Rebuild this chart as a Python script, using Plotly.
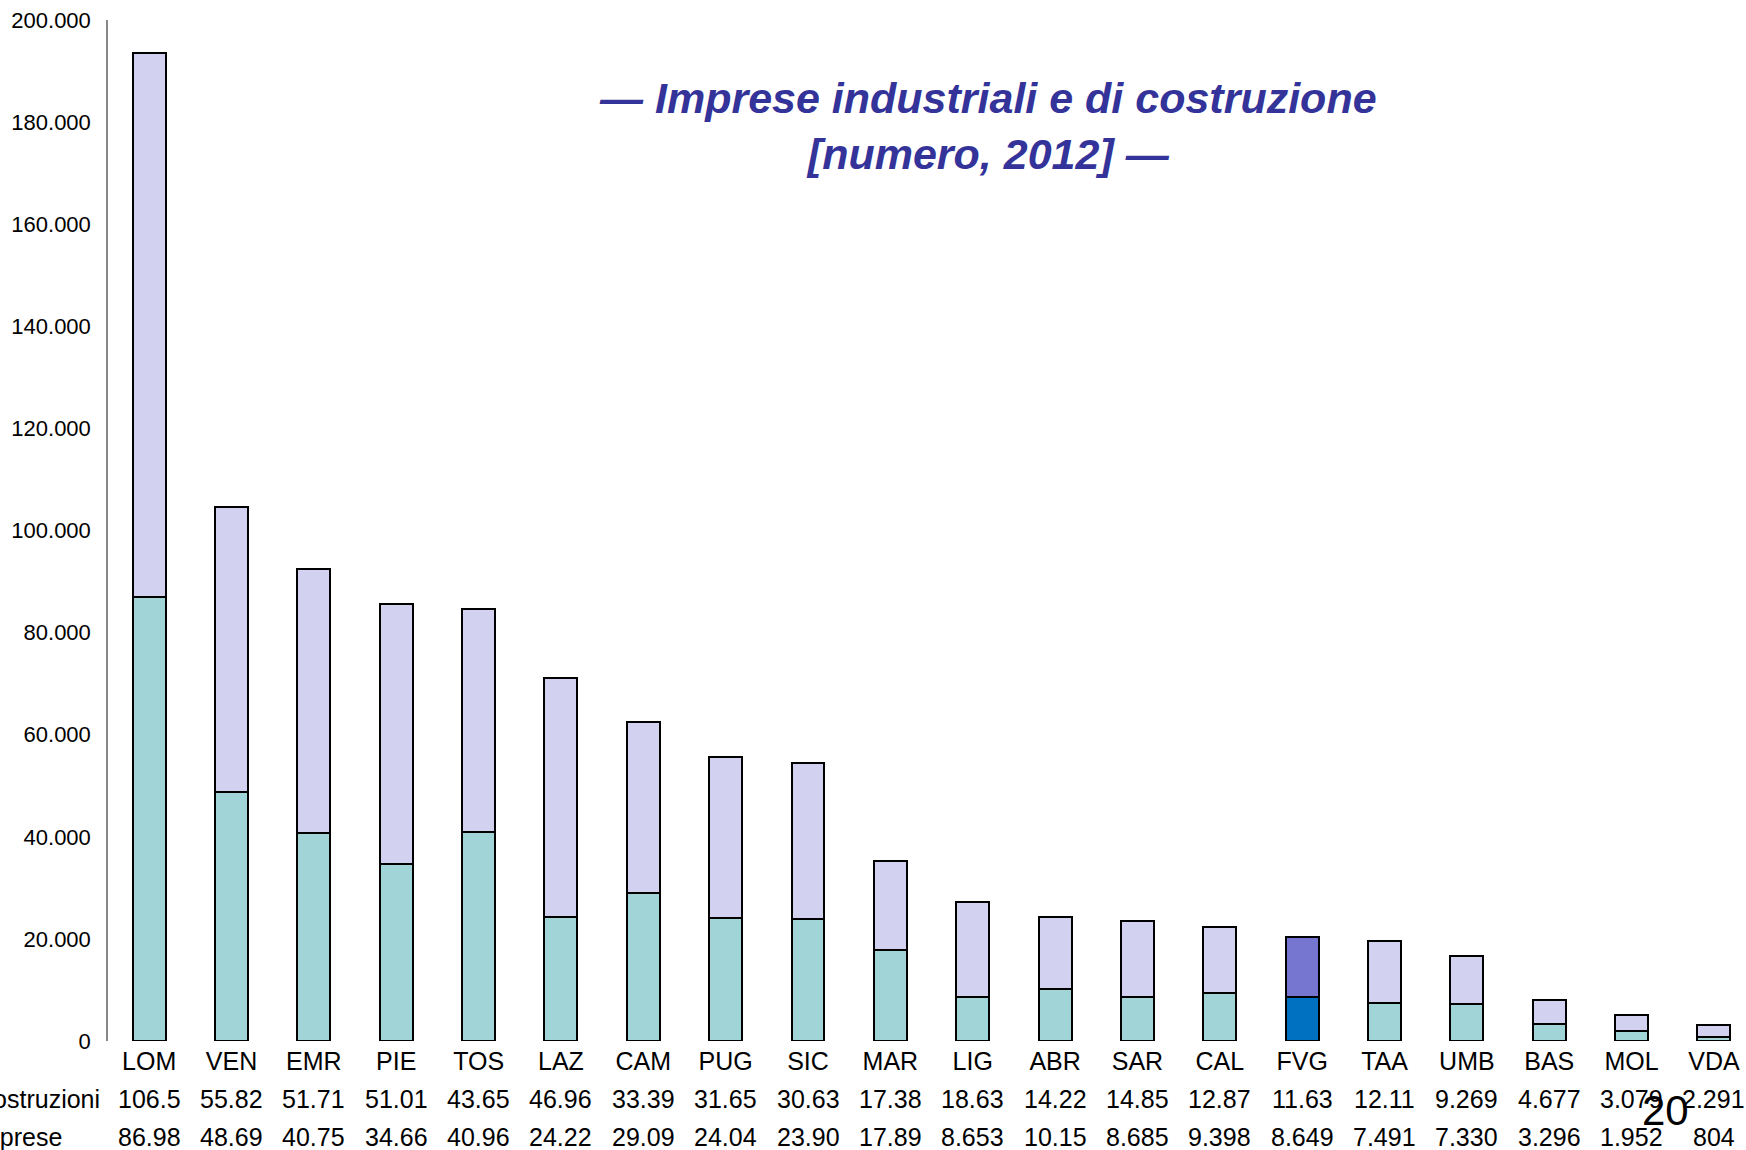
import plotly.graph_objects as go

regioni = ["LOM", "VEN", "EMR", "PIE", "TOS", "LAZ", "CAM", "PUG", "SIC", "MAR",
           "LIG", "ABR", "SAR", "CAL", "FVG", "TAA", "UMB", "BAS", "MOL", "VDA"]
costruzioni = [106500, 55820, 51710, 51010, 43650, 46960, 33390, 31650, 30630, 17380,
               18630, 14220, 14850, 12870, 11630, 12110, 9269, 4677, 3079, 2291]
imprese = [86980, 48690, 40750, 34660, 40960, 24220, 29090, 24040, 23900, 17890,
           8653, 10150, 8685, 9398, 8649, 7491, 7330, 3296, 1952, 804]
y_ticks = [0, 20000, 40000, 60000, 80000, 100000, 120000, 140000, 160000, 180000, 200000]
evidenza = "FVG"

TEAL, LAV = "#A0D4D6", "#D2D2F0"
FVG_BOT, FVG_TOP = "#0070C0", "#7676D0"
FONT = "Liberation Sans, Arial, sans-serif"
TXT = 25

col_bot = [FVG_BOT if r == evidenza else TEAL for r in regioni]
col_top = [FVG_TOP if r == evidenza else LAV for r in regioni]

fig = go.Figure()
fig.add_trace(go.Bar(x=regioni, y=imprese, name="Imprese", marker=dict(color=col_bot, line=dict(color="black", width=2))))
fig.add_trace(go.Bar(x=regioni, y=costruzioni, name="Costruzioni", marker=dict(color=col_top, line=dict(color="black", width=2))))


def fmt(v):
    return f"{v:,}".replace(",", ".")[:5]

PLOT_TOP, PLOT_BOT, LEFT, W, H = 20, 1041, 108, 1746, 1150
ph = PLOT_BOT - PLOT_TOP
pw = W - LEFT

def py(ypix):
    return (PLOT_BOT - ypix) / ph

def px(xpix):
    return (xpix - LEFT) / pw

ann = []
for r, c, i in zip(regioni, costruzioni, imprese):
    ann.append(dict(x=r, xref="x", y=py(1099), yref="paper", text=fmt(c), showarrow=False,
                    xanchor="center", yanchor="middle", font=dict(size=TXT, color="black", family=FONT)))
    ann.append(dict(x=r, xref="x", y=py(1137), yref="paper", text=fmt(i), showarrow=False,
                    xanchor="center", yanchor="middle", font=dict(size=TXT, color="black", family=FONT)))
ann.append(dict(x=px(102), xref="paper", y=py(1099), yref="paper", text="Costruzioni", showarrow=False,
                xanchor="right", yanchor="middle", font=dict(size=TXT, color="black", family=FONT)))
ann.append(dict(x=px(64), xref="paper", y=py(1137), yref="paper", text="Imprese", showarrow=False,
                xanchor="right", yanchor="middle", font=dict(size=TXT, color="black", family=FONT)))
ann.append(dict(x=px(988), xref="paper", y=py(126), yref="paper",
                text="<b><i>— Imprese industriali e di costruzione<br>[numero, 2012] —</i></b>",
                showarrow=False, xanchor="center", yanchor="middle", align="center",
                font=dict(size=43, color="#333399", family=FONT)))
ann.append(dict(x=px(1665), xref="paper", y=py(1110), yref="paper", text="20", showarrow=False,
                xanchor="center", yanchor="middle", font=dict(size=42, color="black", family=FONT)))

fig.update_layout(
    barmode="stack",
    bargap=0.6,
    width=W, height=H,
    margin=dict(l=LEFT, r=0, t=PLOT_TOP, b=H - PLOT_BOT, pad=0),
    paper_bgcolor="white", plot_bgcolor="white",
    showlegend=False,
    separators=",.",
    annotations=ann,
    font=dict(family=FONT, color="black"),
)
fig.update_xaxes(range=[-0.5, (W - 148.7) / 82.38], showgrid=False, zeroline=False, showline=False,
                 ticks="", tickfont=dict(size=TXT, color="black"), ticklabelstandoff=3)
fig.update_yaxes(range=[0, 200000], tickvals=y_ticks, tickformat=",.0f", showgrid=False, zeroline=False,
                 showline=True, linecolor="#898989", linewidth=1.5, ticks="",
                 tickfont=dict(size=22, color="black"), ticklabelstandoff=11)

fig.write_html("out.html", config={"displayModeBar": False},
               post_script="document.body.style.margin='0';document.body.style.overflow='hidden';")
